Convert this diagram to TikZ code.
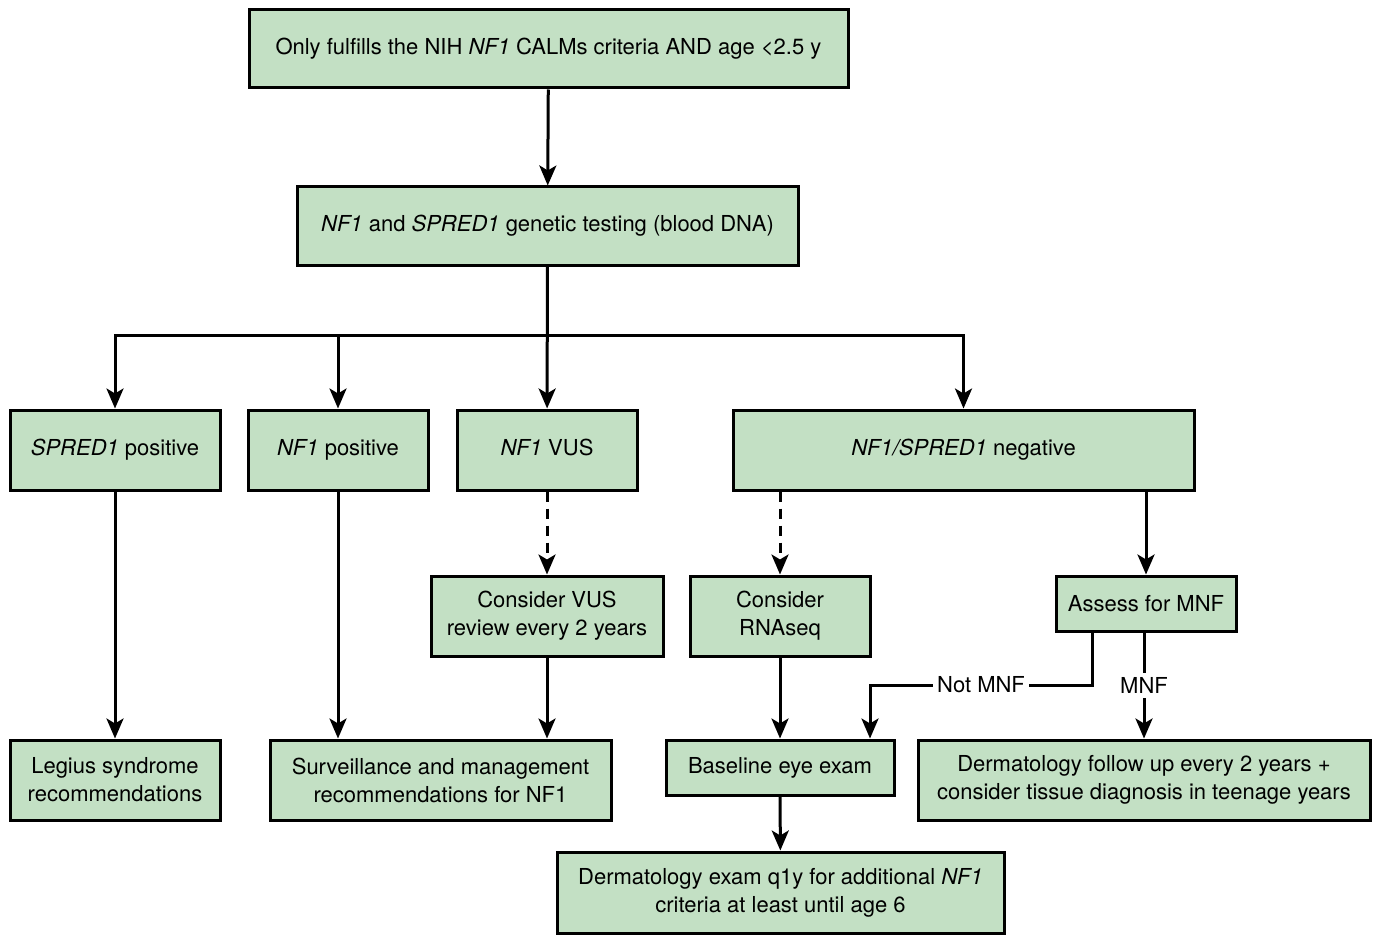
\documentclass[tikz,border=0pt]{standalone}
\usepackage{fontspec}
\setmainfont{TeX Gyre Heros}
\usetikzlibrary{arrows.meta}
\definecolor{boxgreen}{RGB}{195,224,196}

\begin{document}
\begin{tikzpicture}[
    x=0.5pt, y=-0.5pt,
    box/.style={draw, line width=1.5pt, fill=boxgreen, align=center, inner sep=0pt, font=\fontsize{11}{14}\selectfont},
    arr/.style={-{Stealth[length=10pt, width=8.5pt, inset=2.5pt]}, line width=1.5pt},
    dashline/.style={dash pattern=on 5pt off 3.5pt},
    lbl/.style={fill=white, inner sep=2pt, font=\fontsize{11}{14}\selectfont}
]
\useasboundingbox (0,0) rectangle (1380,936);
% top of the chart
\node[box, minimum width=299.5pt, minimum height=39pt] (top) at (548.5,49) {Only fulfills the NIH \textit{NF1} CALMs criteria AND age <2.5 y};
\node[box, minimum width=250.5pt, minimum height=39pt] (gentest) at (547.5,226) {\textit{NF1} and \textit{SPRED1} genetic testing (blood DNA)};
% test results
\node[box, minimum width=105pt, minimum height=40pt] (spredpos) at (115,450) {\textit{SPRED1} positive};
\node[box, minimum width=90pt, minimum height=40pt] (nfpos) at (338,450) {\textit{NF1} positive};
\node[box, minimum width=90pt, minimum height=40pt] (nfvus) at (547,450) {\textit{NF1} VUS\strut};
\node[box, minimum width=230.5pt, minimum height=40pt] (neg) at (963.5,450) {\textit{NF1/SPRED1} negative};
% follow-up steps
\node[box, minimum width=116pt, minimum height=40pt] (vusrev) at (547,616) {Consider VUS\\review every 2 years};
\node[box, minimum width=90pt, minimum height=40pt] (rnaseq) at (780,616) {Consider\\RNAseq};
\node[box, minimum width=90pt, minimum height=27.5pt] (assess) at (1146,603.5) {Assess for MNF};
% outcomes
\node[box, minimum width=105pt, minimum height=40pt] (legius) at (115,780) {Legius syndrome\\recommendations};
\node[box, minimum width=170.5pt, minimum height=40pt] (surv) at (440.5,780) {Surveillance and management\\recommendations for NF1};
\node[box, minimum width=114pt, minimum height=27.5pt] (eye) at (780,767.5) {Baseline eye exam};
\node[box, minimum width=226pt, minimum height=40pt] (dermfu) at (1144,780) {Dermatology follow up every 2 years +\\consider tissue diagnosis in teenage years};
\node[box, minimum width=223.5pt, minimum height=40.5pt] (dermexam) at (780.5,892.5) {Dermatology exam q1y for additional \textit{NF1}\\criteria at least until age 6};

\coordinate (split) at (547.5,335);
\coordinate (nmbend) at (870,685);

\draw[arr] (top) -- (gentest);
\draw[arr] (gentest) -- (nfvus);
\draw[arr] (split) -| (spredpos);
\draw[arr] (split) -| (nfpos);
\draw[arr] (split) -| (neg);
\draw[arr] (spredpos) -- (legius);
\draw[arr] (nfpos.south) -- (nfpos.south |- surv.north);
\draw[arr, dashline] (nfvus) -- (vusrev);
\draw[arr] (vusrev.south) -- (vusrev.south |- surv.north);
\draw[arr, dashline] (rnaseq.north |- neg.south) -- (rnaseq.north);
\draw[arr] (assess.north |- neg.south) -- (assess.north);
\draw[arr] (rnaseq) -- (eye);
\draw[arr] (eye) -- (dermexam);
\draw[arr] ([xshift=-27pt]assess.south) |- node[lbl, pos=0.75] {Not MNF} (nmbend) -- (nmbend |- eye.north);
\draw[arr] (assess.south -| dermfu.north) -- node[lbl] {MNF} (dermfu.north);
\end{tikzpicture}
\end{document}
